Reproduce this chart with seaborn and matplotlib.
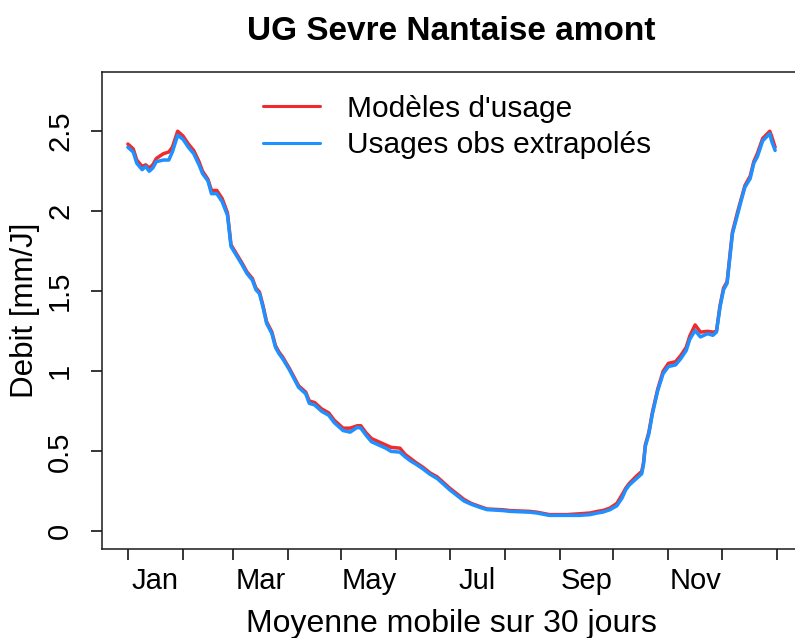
import matplotlib
matplotlib.use("Agg")
import matplotlib.pyplot as plt
import seaborn as sns
import pandas as pd

# Day of year (1 = 1 January) of each value of the 30-day moving average
days = [1, 4, 6, 9, 11, 13, 15, 17, 21, 24, 26, 29, 32, 35, 38, 41, 43, 46, 48,
        51, 54, 57, 58, 59, 62, 65, 68, 71, 73, 75, 77, 79, 82, 84, 86, 88, 92,
        97, 101, 103, 106, 110, 114, 117, 122, 126, 130, 132, 135, 138, 142,
        146, 149, 154, 157, 160, 163, 167, 171, 175, 178, 182, 186, 190, 194,
        199, 203, 212, 216, 227, 231, 238, 248, 255, 261, 265, 268, 272, 276,
        279, 281, 283, 287, 290, 291, 292, 294, 296, 299, 302, 305, 309, 312,
        315, 317, 320, 323, 327, 330, 332, 334, 336, 338, 340, 341, 344, 346,
        348, 351, 353, 355, 358, 362, 363, 365]

# Discharge [mm/J], usage models
model_usage = [2.42, 2.39, 2.32, 2.28, 2.29, 2.27, 2.29, 2.33, 2.36, 2.37, 2.40,
               2.50, 2.47, 2.42, 2.38, 2.31, 2.25, 2.20, 2.13, 2.13, 2.08, 1.99,
               1.89, 1.79, 1.735, 1.68, 1.62, 1.58, 1.52, 1.495, 1.41, 1.31,
               1.245, 1.16, 1.12, 1.09, 1.015, 0.91, 0.87, 0.815, 0.805, 0.765,
               0.74, 0.695, 0.645, 0.645, 0.66, 0.66, 0.615, 0.58, 0.56, 0.54,
               0.525, 0.52, 0.48, 0.455, 0.43, 0.40, 0.365, 0.34, 0.31, 0.27,
               0.235, 0.20, 0.175, 0.155, 0.14, 0.135, 0.13, 0.125, 0.12, 0.105,
               0.105, 0.11, 0.115, 0.125, 0.13, 0.145, 0.175, 0.23, 0.27, 0.30,
               0.345, 0.375, 0.43, 0.54, 0.62, 0.745, 0.89, 1.00, 1.05, 1.06,
               1.10, 1.15, 1.22, 1.29, 1.245, 1.25, 1.245, 1.25, 1.41, 1.52,
               1.56, 1.77, 1.87, 2.00, 2.08, 2.16, 2.22, 2.31, 2.36, 2.455, 2.50,
               2.47, 2.40]

# Discharge [mm/J], extrapolated observed usages
obs_usage = [2.40, 2.37, 2.30, 2.26, 2.28, 2.25, 2.27, 2.31, 2.32, 2.32, 2.37,
             2.475, 2.45, 2.40, 2.36, 2.29, 2.235, 2.19, 2.11, 2.11, 2.06, 1.975,
             1.88, 1.78, 1.725, 1.67, 1.61, 1.57, 1.51, 1.485, 1.40, 1.30,
             1.235, 1.15, 1.11, 1.08, 1.006, 0.90, 0.86, 0.80, 0.79, 0.75,
             0.725, 0.68, 0.63, 0.62, 0.65, 0.645, 0.60, 0.56, 0.54, 0.52,
             0.50, 0.495, 0.465, 0.44, 0.42, 0.39, 0.356, 0.33, 0.30, 0.26,
             0.225, 0.19, 0.17, 0.15, 0.136, 0.13, 0.125, 0.12, 0.115, 0.10,
             0.10, 0.10, 0.105, 0.115, 0.12, 0.135, 0.16, 0.21, 0.26, 0.29,
             0.33, 0.36, 0.42, 0.53, 0.61, 0.735, 0.88, 0.985, 1.03, 1.04,
             1.08, 1.13, 1.20, 1.255, 1.215, 1.235, 1.225, 1.245, 1.40, 1.51,
             1.55, 1.756, 1.86, 1.985, 2.07, 2.15, 2.205, 2.30, 2.34, 2.44,
             2.485, 2.44, 2.38]

series_names = ["Modèles d'usage", "Usages obs extrapolés"]
series_colors = ["#EE2C2C", "#1E90FF"]

# First day of each month, plus 1 January of the following year
month_starts = [1, 32, 60, 91, 121, 152, 182, 213, 244, 274, 305, 335, 366]
month_labels = ["Jan", "Mar", "May", "Jul", "Sep", "Nov"]
y_ticks = [0, 0.5, 1, 1.5, 2, 2.5]
y_tick_labels = ["0", "0.5", "1", "1.5", "2", "2.5"]

title = "UG Sevre Nantaise amont"
x_title = "Moyenne mobile sur 30 jours"
y_title = "Debit [mm/J]"

sns.set_theme(style="ticks")
plt.rcParams["font.family"] = ["Liberation Sans", "DejaVu Sans"]
plt.rcParams.update({
    "text.color": "black",
    "axes.labelcolor": "black",
    "xtick.color": "black",
    "ytick.color": "black",
    "axes.edgecolor": "black",
})

df = pd.concat([
    pd.DataFrame({"jour": days, "debit": model_usage, "serie": series_names[0]}),
    pd.DataFrame({"jour": days, "debit": obs_usage, "serie": series_names[1]}),
])

W, H = 795, 638
fig = plt.figure(figsize=(W / 100, H / 100), dpi=100)
ax = fig.add_axes([102 / W, 1 - 549 / H, 699 / W, 477 / H])

sns.lineplot(data=df, x="jour", y="debit", hue="serie", palette=series_colors,
             hue_order=series_names, estimator=None, sort=False, linewidth=2.5,
             ax=ax)

ax.set_xlim(-13.56, 379.56)
ax.set_ylim(-0.11, 2.87)

# Month boundaries carry the ticks, mid-month positions carry the labels
ax.set_xticks(month_starts)
ax.set_xticklabels([])
mid_odd = [(month_starts[i] + month_starts[i + 1]) / 2 for i in range(0, 12, 2)]
ax.set_xticks(mid_odd, minor=True)
ax.set_xticklabels(month_labels, minor=True)
ax.tick_params(axis="x", which="minor", length=0, pad=13, labelsize=21)
ax.tick_params(axis="x", which="major", length=8, width=1.1, direction="out")

ax.set_yticks(y_ticks)
ax.set_yticklabels(y_tick_labels, rotation=90, va="center")
ax.tick_params(axis="y", length=8, width=1.1, direction="out", pad=12,
               labelsize=21)

for s in ax.spines.values():
    s.set_linewidth(1.1)
    s.set_color("#1a1a1a")

ax.set_xlabel(x_title, fontsize=23)
ax.xaxis.set_label_coords(0.5, -0.126)
ax.set_ylabel(y_title, fontsize=22.5)
ax.yaxis.set_label_coords(-0.089, 0.5)
ax.set_title(title, fontsize=24, fontweight="bold", pad=0, y=1.067)

leg = ax.legend(loc="upper left", bbox_to_anchor=(0.2303, 0.952), frameon=False,
                fontsize=21.5, handlelength=1.9, handletextpad=0.9,
                labelspacing=0.27, borderpad=0, borderaxespad=0)
for line in leg.get_lines():
    line.set_linewidth(2.2)

fig.savefig("out.png", dpi=100)
